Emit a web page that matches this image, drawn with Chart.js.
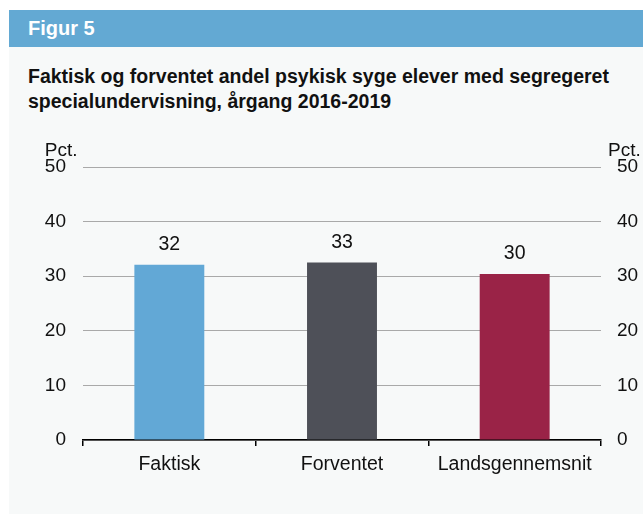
<!DOCTYPE html>
<html>
<head>
<meta charset="utf-8">
<script src="https://cdn.jsdelivr.net/npm/chart.js@4.4.1/dist/chart.umd.min.js"></script>
<style>
  html, body { margin: 0; padding: 0; background: #ffffff; }
  body { width: 643px; height: 514px; position: relative; overflow: hidden; font-family: "Liberation Sans", Arial, sans-serif; }
  #panel { position: absolute; left: 9px; top: 10px; width: 634px; height: 504px; background: #f7f9f9; }
  #header { position: absolute; left: 0; top: 0; width: 634px; height: 37px; background: #63a9d3; color: #ffffff; font-weight: bold; font-size: 20px; line-height: 37px; }
  #header span { position: absolute; left: 19px; top: 0; }
  #title { position: absolute; left: 19px; top: 54px; font-weight: bold; font-size: 19.5px; line-height: 25px; color: #111; white-space: nowrap; }
  #wrap { position: absolute; left: 0; top: 0; width: 643px; height: 514px; }
</style>
</head>
<body>
<div id="panel">
  <div id="header"><span>Figur 5</span></div>
  <div id="title">Faktisk og forventet andel psykisk syge elever med segregeret<br>specialundervisning, årgang 2016-2019</div>
</div>
<div id="wrap"><canvas id="c" width="643" height="514"></canvas></div>
<script>
const categories = ["Faktisk", "Forventet", "Landsgennemsnit"];
const values = [32.1, 32.5, 30.4];
const valueLabels = ["32", "33", "30"];
const barColors = ["#62a8d6", "#4e5058", "#9a2347"];
const yTicks = [0, 10, 20, 30, 40, 50];
const unitLabel = "Pct.";

const FONT = "'Liberation Sans', Arial, sans-serif";

const labelPlugin = {
  id: 'labels',
  afterDatasetsDraw(chart) {
    const ctx = chart.ctx;
    const meta = chart.getDatasetMeta(0);
    ctx.save();
    ctx.font = "19.5px " + FONT;
    ctx.fillStyle = "#111";
    ctx.textAlign = "center";
    ctx.textBaseline = "alphabetic";
    meta.data.forEach((bar, i) => {
      ctx.fillText(valueLabels[i], bar.x, bar.y - 15);
    });
    // unit labels
    ctx.font = "19px " + FONT;
    const ys = chart.scales.y;
    const ca = chart.chartArea;
    const topY = ys.getPixelForValue(yTicks[yTicks.length - 1]) - 11;
    const w50 = ctx.measureText(String(yTicks[yTicks.length - 1])).width;
    ctx.textAlign = "left";
    ctx.fillText(unitLabel, ca.left - 17 - w50, topY);
    ctx.fillText(unitLabel, ca.right + 7, topY);
    ctx.restore();
  }
};

new Chart(document.getElementById('c'), {
  type: 'bar',
  data: {
    labels: categories,
    datasets: [{
      data: values,
      backgroundColor: barColors,
      borderWidth: 0,
      categoryPercentage: 1.0,
      barPercentage: 0.405,
      yAxisID: 'y'
    }]
  },
  options: {
    responsive: false,
    animation: false,
    devicePixelRatio: 1,
    layout: { padding: { top: 167, left: 0, right: 0, bottom: 0 } },
    plugins: { legend: { display: false }, tooltip: { enabled: false } },
    scales: {
      x: {
        grid: { display: true, drawOnChartArea: false, drawTicks: true, tickLength: 6, color: "#000", lineWidth: 1.5, offset: true },
        border: { display: true, color: "#000", width: 1.5 },
        ticks: { color: "#111", font: { size: 19.5, family: FONT }, padding: 7, maxRotation: 0, autoSkip: false },
        afterFit(s) { s.height = 74; }
      },
      y: {
        position: 'left',
        min: 0, max: 50,
        afterBuildTicks(s) { s.ticks = yTicks.map(v => ({ value: v })); },
        grid: { color: "#a9a9a9", lineWidth: 1, drawTicks: false },
        border: { display: false },
        ticks: { color: "#111", font: { size: 19, family: FONT }, padding: 17 },
        afterFit(s) { s.width = 83; }
      },
      y2: {
        position: 'right',
        min: 0, max: 50,
        afterBuildTicks(s) { s.ticks = yTicks.map(v => ({ value: v })); },
        grid: { drawOnChartArea: false, drawTicks: false },
        border: { display: false },
        ticks: { color: "#111", font: { size: 19, family: FONT }, padding: 16 },
        afterFit(s) { s.width = 42; }
      }
    }
  },
  plugins: [labelPlugin]
});
</script>
</body>
</html>
